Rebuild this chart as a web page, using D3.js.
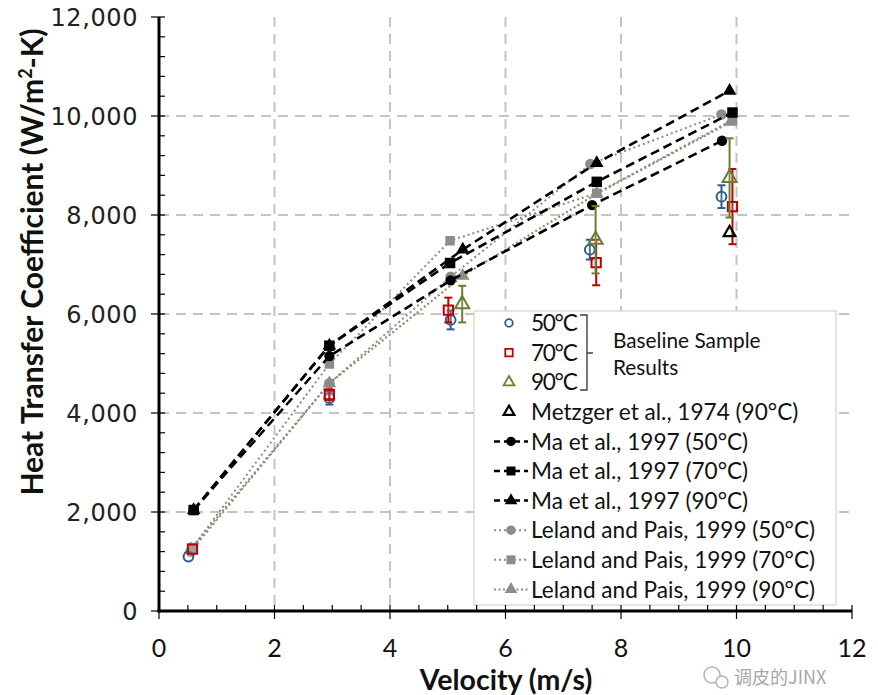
<!DOCTYPE html>
<html><head><meta charset="utf-8">
<script src="https://cdn.jsdelivr.net/npm/d3@7"></script>
<style>html,body{margin:0;padding:0;background:#fff;}svg{display:block;}</style>
</head><body>
<svg id="c" width="878" height="695"></svg>
<script>
// ---- data ----
const xTicks = [0, 2, 4, 6, 8, 10, 12];
const yTicks = [0, 2000, 4000, 6000, 8000, 10000, 12000];

const base50X = [0.51, 2.95, 5.05, 7.46, 9.74];
const base50Y = [1100, 4300, 5880, 7300, 8370];
const base50Err = [0, 130, 190, 200, 230];

const base70X = [0.58, 2.95, 5.01, 7.57, 9.93];
const base70Y = [1250, 4370, 6080, 7040, 8170];
const base70Err = [0, 110, 250, 460, 760];

const base90X = [5.25, 7.56, 9.88];
const base90Y = [6200, 7500, 8750];
const base90Err = [370, 680, 800];

const metzgerX = [9.88];
const metzgerY = [7640];

const ma50X = [0.6, 2.95, 5.05, 7.5, 9.75];
const ma50Y = [2040, 5150, 6680, 8200, 9500];
const ma70X = [0.6, 2.95, 5.04, 7.58, 9.93];
const ma70Y = [2040, 5360, 7030, 8670, 10070];
const ma90X = [0.6, 2.95, 5.26, 7.58, 9.88];
const ma90Y = [2040, 5360, 7300, 9050, 10510];

const le50X = [0.55, 2.95, 5.05, 7.47, 9.74];
const le50Y = [1200, 4600, 6750, 9030, 10030];
const le70X = [0.58, 2.95, 5.04, 7.58, 9.93];
const le70Y = [1280, 4990, 7480, 8440, 9920];
const le90X = [0.55, 2.95, 5.26, 7.58, 9.9];
const le90Y = [1250, 4600, 6770, 8430, 9880];

const legendLabels = ["50°C", "70°C", "90°C", "Metzger et al., 1974 (90°C)",
  "Ma et al., 1997 (50°C)", "Ma et al., 1997 (70°C)", "Ma et al., 1997 (90°C)",
  "Leland and Pais, 1999 (50°C)", "Leland and Pais, 1999 (70°C)", "Leland and Pais, 1999 (90°C)"];

// ---- setup ----
const svg = d3.select("#c");
const x = d3.scaleLinear().domain([0, 12]).range([159, 852]);
const y = d3.scaleLinear().domain([0, 12000]).range([611, 17]);
const zip = (X, Y, E) => X.map((v, i) => ({x: v, y: Y[i], e: E ? E[i] : 0}));

const BLUE = "#2f5b8f", RED = "#c00000", GREEN = "#6b7d2e", GRAY = "#8c8c8c", GRID = "#c4c4c4";

// gridlines
const g0 = svg.append("g");
g0.selectAll(".vg").data([2, 4, 6, 8, 10]).enter().append("line")
  .attr("x1", d => x(d)).attr("x2", d => x(d)).attr("y1", y(12000)).attr("y2", y(0))
  .attr("stroke", GRID).attr("stroke-width", 2).attr("stroke-dasharray", "10,7");
g0.selectAll(".hg").data([2000, 4000, 6000, 8000, 10000]).enter().append("line")
  .attr("y1", d => y(d)).attr("y2", d => y(d)).attr("x1", x(0)).attr("x2", x(12))
  .attr("stroke", GRID).attr("stroke-width", 2).attr("stroke-dasharray", "10,7");

const line = d3.line().x(d => x(d.x)).y(d => y(d.y));
const sym = (type, size) => d3.symbol().type(type).size(size)();

function drawSeries(data, stroke, dash, width, markType, markSize, fill) {
  svg.append("path").datum(data).attr("d", line).attr("fill", "none")
    .attr("stroke", stroke).attr("stroke-width", width).attr("stroke-dasharray", dash);
  svg.append("g").selectAll("path").data(data).enter().append("path")
    .attr("transform", d => `translate(${x(d.x)},${y(d.y)})`)
    .attr("d", sym(markType, markSize)).attr("fill", fill);
}
// Leland lines (dotted, gray)
drawSeries(zip(le90X, le90Y), "#8e8e62", "2,2.5", 2.2, d3.symbolTriangle, 80, GRAY);
drawSeries(zip(le50X, le50Y), GRAY, "2,3", 2, d3.symbolCircle, 90, GRAY);
drawSeries(zip(le70X, le70Y), GRAY, "2,3", 2, d3.symbolSquare, 90, GRAY);
// Ma lines (dashed, black)
drawSeries(zip(ma90X, ma90Y), "#000", "9,5", 2.6, d3.symbolTriangle, 80, "#000");
drawSeries(zip(ma50X, ma50Y), "#000", "9,5", 2.6, d3.symbolCircle, 85, "#000");
drawSeries(zip(ma70X, ma70Y), "#000", "9,5", 2.6, d3.symbolSquare, 110, "#000");

// baseline with error bars
function drawBase(data, color, markType, markSize) {
  const g = svg.append("g");
  const eb = data.filter(d => d.e > 0);
  g.selectAll(".v").data(eb).enter().append("line")
    .attr("x1", d => x(d.x)).attr("x2", d => x(d.x))
    .attr("y1", d => y(d.y + d.e)).attr("y2", d => y(d.y - d.e))
    .attr("stroke", color).attr("stroke-width", 2);
  [1, -1].forEach(s => {
    g.selectAll(".c" + s).data(eb).enter().append("line")
      .attr("x1", d => x(d.x) - 4).attr("x2", d => x(d.x) + 4)
      .attr("y1", d => y(d.y + s * d.e)).attr("y2", d => y(d.y + s * d.e))
      .attr("stroke", color).attr("stroke-width", 2);
  });
  g.selectAll(".m").data(data).enter().append("path")
    .attr("transform", d => `translate(${x(d.x)},${y(d.y)})`)
    .attr("d", sym(markType, markSize)).attr("fill", "#fff").attr("fill-opacity", 0.15)
    .attr("stroke", color).attr("stroke-width", 2);
}
drawBase(zip(base50X, base50Y, base50Err), BLUE, d3.symbolCircle, 75);
drawBase(zip(base70X, base70Y, base70Err), RED, d3.symbolSquare, 85);
drawBase(zip(base90X, base90Y, base90Err), GREEN, d3.symbolTriangle, 85);
svg.append("g").selectAll("path").data(zip(metzgerX, metzgerY)).enter().append("path")
  .attr("transform", d => `translate(${x(d.x)},${y(d.y)})`)
  .attr("d", sym(d3.symbolTriangle, 60)).attr("fill", "none").attr("stroke", "#000").attr("stroke-width", 2.2);

// ---- legend ----
const lg = svg.append("g");
lg.append("rect").attr("x", 474).attr("y", 311).attr("width", 362).attr("height", 294)
  .attr("fill", "#fff").attr("stroke", "#d4d4d4").attr("stroke-width", 1.2);
const ly = i => 323 + i * 29.6;
const legStyles = [
  {t: "b", type: d3.symbolCircle, size: 45, c: BLUE},
  {t: "b", type: d3.symbolSquare, size: 55, c: RED},
  {t: "b", type: d3.symbolTriangle, size: 50, c: GREEN},
  {t: "b", type: d3.symbolTriangle, size: 50, c: "#000"},
  {t: "l", type: d3.symbolCircle, size: 70, c: "#000", lc: "#000", dash: "6,4", w: 2.5},
  {t: "l", type: d3.symbolSquare, size: 80, c: "#000", lc: "#000", dash: "6,4", w: 2.5},
  {t: "l", type: d3.symbolTriangle, size: 70, c: "#000", lc: "#000", dash: "6,4", w: 2.5},
  {t: "l", type: d3.symbolCircle, size: 70, c: GRAY, lc: GRAY, dash: "2,3", w: 2},
  {t: "l", type: d3.symbolSquare, size: 80, c: GRAY, lc: GRAY, dash: "2,3", w: 2},
  {t: "l", type: d3.symbolTriangle, size: 70, c: GRAY, lc: "#8e8e62", dash: "2,2.5", w: 2}
];
legStyles.forEach((s, i) => {
  if (s.t === "l") {
    lg.append("line").attr("x1", 494).attr("x2", 528).attr("y1", ly(i)).attr("y2", ly(i))
      .attr("stroke", s.lc).attr("stroke-width", s.w).attr("stroke-dasharray", s.dash);
    lg.append("path").attr("transform", `translate(511,${ly(i)})`).attr("d", sym(s.type, s.size)).attr("fill", s.c);
  } else {
    lg.append("path").attr("transform", `translate(509,${ly(i)})`).attr("d", sym(s.type, s.size))
      .attr("fill", "none").attr("stroke", s.c).attr("stroke-width", s.c === "#000" ? 2.2 : 1.8);
  }
  lg.append("text").attr("x", 531).attr("y", ly(i)).attr("dy", "0.36em")
    .attr("font-family", "Lato, sans-serif").attr("font-size", 22.6).attr("fill", "#111")
    .attr("letter-spacing", i < 3 ? -1.3 : 0)
    .text(legendLabels[i]);
});
lg.append("path").attr("d", "M580,315 H587 V390 H580 M587,353 H593")
  .attr("fill", "none").attr("stroke", "#404040").attr("stroke-width", 1.4);
lg.append("text").attr("x", 613).attr("y", 341).attr("dy", "0.36em")
  .attr("font-family", "Lato, sans-serif").attr("font-size", 20.8).attr("fill", "#111").text("Baseline Sample");
lg.append("text").attr("x", 613).attr("y", 368).attr("dy", "0.36em")
  .attr("font-family", "Lato, sans-serif").attr("font-size", 20.8).attr("fill", "#111").text("Results");

// ---- axes ----
const ax = svg.append("g");
const xMinor = d3.range(0.5, 12, 0.5).filter(v => v % 2 !== 0);
const yMinor = d3.range(400, 12000, 400).filter(v => v % 2000 !== 0);
ax.selectAll(".xm").data(xMinor).enter().append("line")
  .attr("x1", d => x(d)).attr("x2", d => x(d)).attr("y1", y(0)).attr("y2", y(0) - 6)
  .attr("stroke", "#000").attr("stroke-width", 1.2);
ax.selectAll(".ym").data(yMinor).enter().append("line")
  .attr("y1", d => y(d)).attr("y2", d => y(d)).attr("x1", x(0)).attr("x2", x(0) + 6)
  .attr("stroke", "#000").attr("stroke-width", 1.2);
ax.selectAll(".xM").data(xTicks).enter().append("line")
  .attr("x1", d => x(d)).attr("x2", d => x(d)).attr("y1", y(0) - 6).attr("y2", y(0) + 8)
  .attr("stroke", "#000").attr("stroke-width", 1.2);
ax.selectAll(".yM").data(yTicks).enter().append("line")
  .attr("y1", d => y(d)).attr("y2", d => y(d)).attr("x1", x(0) - 8).attr("x2", x(0) + 6)
  .attr("stroke", "#000").attr("stroke-width", 1.2);
ax.append("line").attr("x1", x(0)).attr("x2", x(0)).attr("y1", y(12000)).attr("y2", y(0) + 1.5)
  .attr("stroke", "#000").attr("stroke-width", 3);
ax.append("line").attr("x1", x(0) - 1.5).attr("x2", x(12)).attr("y1", y(0)).attr("y2", y(0))
  .attr("stroke", "#000").attr("stroke-width", 3);

const fmt = d3.format(",");
ax.selectAll(".xl").data(xTicks).enter().append("text")
  .attr("x", d => x(d)).attr("y", 657).attr("text-anchor", "middle")
  .attr("font-family", "Lato, sans-serif").attr("font-size", 25).attr("fill", "#111").text(d => d);
ax.selectAll(".yl").data(yTicks).enter().append("text")
  .attr("x", 138).attr("y", d => y(d)).attr("dy", "0.36em").attr("text-anchor", "end")
  .attr("font-family", "DejaVu Sans, sans-serif").attr("font-size", 24).attr("letter-spacing", 0.6)
  .attr("fill", "#222").text(d => fmt(d));

svg.append("text").attr("x", 506).attr("y", 690).attr("text-anchor", "middle")
  .attr("font-family", "Lato, sans-serif").attr("font-weight", "bold").attr("font-size", 28.5).attr("fill", "#111")
  .text("Velocity (m/s)");
const yt = svg.append("text").attr("transform", "translate(43,262) rotate(-90)").attr("text-anchor", "middle")
  .attr("font-family", "Lato, sans-serif").attr("font-weight", "bold").attr("font-size", 30).attr("fill", "#111");
yt.append("tspan").text("Heat Transfer Coefficient (W/m");
yt.append("tspan").attr("font-size", 18).attr("dy", -11).text("2");
yt.append("tspan").attr("dy", 11).text("-K)");

// watermark
const wm = svg.append("g").attr("opacity", 0.75);
wm.append("circle").attr("cx", 712).attr("cy", 675).attr("r", 8).attr("fill", "none").attr("stroke", "#9a9a9a").attr("stroke-width", 1.5);
wm.append("circle").attr("cx", 722).attr("cy", 682).attr("r", 6).attr("fill", "#fff").attr("stroke", "#9a9a9a").attr("stroke-width", 1.5);
wm.append("text").attr("x", 734).attr("y", 684).attr("font-family", "Noto Sans CJK SC, sans-serif")
  .attr("font-size", 18).attr("fill", "#8a8a8a").text("调皮的JINX");
</script>
</body></html>
